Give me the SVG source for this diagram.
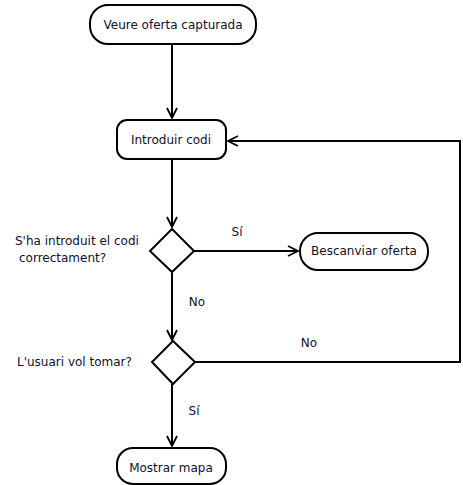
<svg xmlns="http://www.w3.org/2000/svg" width="463" height="485" viewBox="0 0 463 485">
  <defs>
    <marker id="arrow" viewBox="0 0 12 12" refX="11" refY="6" markerWidth="12" markerHeight="12" markerUnits="userSpaceOnUse" orient="auto">
      <path d="M1,1 L11,6 L1,11" fill="none" stroke="#000" stroke-width="1.8"/>
    </marker>
  </defs>
  <style>
    .node { fill: #fff; stroke: #000; stroke-width: 2; }
    .edge { fill: none; stroke: #000; stroke-width: 2; }
    text { font-family: "DejaVu Sans", Verdana, sans-serif; font-size: 12px; fill: #10102a; }
    .c { text-anchor: middle; dominant-baseline: central; }
    .l { dominant-baseline: central; }
  </style>
  <rect width="463" height="485" fill="#fff"/>

  <g id="connectors">
    <line class="edge" x1="172" y1="45" x2="172" y2="118" marker-end="url(#arrow)"/>
    <line class="edge" x1="172" y1="160" x2="172" y2="227" marker-end="url(#arrow)"/>
    <line class="edge" x1="194" y1="251" x2="298" y2="251" marker-end="url(#arrow)"/>
    <line class="edge" x1="172" y1="273" x2="172" y2="340" marker-end="url(#arrow)"/>
    <polyline class="edge" points="195,362 460,362 460,141 228,141" marker-end="url(#arrow)"/>
    <line class="edge" x1="172" y1="384" x2="172" y2="446" marker-end="url(#arrow)"/>
    <text class="c" x="237" y="232">Sí</text>
    <text class="c" x="197" y="302">No</text>
    <text class="c" x="309" y="343">No</text>
    <text class="c" x="194" y="411">Sí</text>
  </g>

  <g id="veure-oferta">
    <rect class="node" x="90" y="5" width="166" height="39" rx="18"/>
    <text class="c" x="173" y="25">Veure oferta capturada</text>
  </g>

  <g id="introduir-codi">
    <rect class="node" x="117" y="120" width="109" height="39" rx="10"/>
    <text class="c" x="171" y="140">Introduir codi</text>
  </g>

  <g id="codi-correcte">
    <polygon class="node" points="172,229 194,251 172,272 150,251"/>
    <text class="l" x="15" y="241">S'ha introduit el codi</text>
    <text class="l" x="19" y="258">correctament?</text>
  </g>

  <g id="bescanviar-oferta">
    <rect class="node" x="300" y="233" width="128" height="37" rx="18"/>
    <text class="c" x="364" y="251">Bescanviar oferta</text>
  </g>

  <g id="vol-tornar">
    <polygon class="node" points="173,341 195,362 173,384 152,362"/>
    <text class="l" x="17" y="362">L'usuari vol tomar?</text>
  </g>

  <g id="mostrar-mapa">
    <rect class="node" x="117" y="448" width="109" height="36" rx="16"/>
    <text class="c" x="171" y="468">Mostrar mapa</text>
  </g>
</svg>
